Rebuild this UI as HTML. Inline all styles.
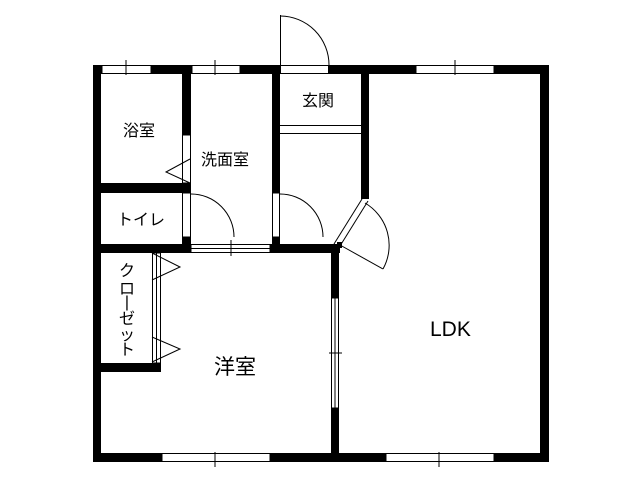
<!DOCTYPE html>
<html><head><meta charset="utf-8"><style>
html,body{margin:0;padding:0;background:#fff;}
svg{display:block;}
text{font-family:"Liberation Sans","Noto Sans CJK JP",sans-serif;fill:#000;}
</style></head><body>
<svg width="640" height="480" viewBox="0 0 640 480" xmlns="http://www.w3.org/2000/svg">
<g fill="#000">
<!-- outer walls -->
<rect x="93" y="65" width="456" height="9"/>
<rect x="93" y="453" width="456" height="9"/>
<rect x="93" y="65" width="8" height="397"/>
<rect x="540" y="65" width="9" height="397"/>
<!-- bath/washroom wall -->
<rect x="182" y="74" width="9" height="61"/>
<rect x="182" y="183" width="9" height="10"/>
<rect x="182" y="237" width="9" height="16"/>
<rect x="93" y="183" width="98" height="10"/>
<rect x="93" y="244" width="98" height="9"/>
<rect x="270" y="244" width="70" height="9"/>
<!-- wash/entrance wall -->
<rect x="272" y="74" width="8" height="119"/>
<rect x="272" y="237" width="8" height="16"/>
<!-- entrance/LDK wall -->
<rect x="361" y="74" width="8" height="125"/>
<!-- 洋室/LDK wall -->
<rect x="331" y="244" width="8" height="54"/>
<rect x="331" y="408" width="8" height="54"/>
<!-- closet bottom wall -->
<rect x="93" y="363" width="68" height="9"/>
</g>
<g fill="#fff" stroke="#000" stroke-width="1">
<!-- top windows -->
<rect x="102" y="65.5" width="49" height="8"/>
<rect x="192" y="65.5" width="48" height="8"/>
<rect x="280.5" y="65.5" width="48" height="8"/>
<rect x="416" y="65.5" width="78" height="8"/>
<!-- bottom windows -->
<rect x="162" y="453.5" width="108" height="8"/>
<rect x="386" y="453.5" width="108" height="8"/>
<!-- openings -->
<rect x="182.5" y="135" width="8" height="48"/>
<rect x="182.5" y="193" width="8" height="44"/>
<rect x="272.5" y="193" width="7" height="44"/>
<rect x="191" y="244.5" width="79" height="8"/>
<rect x="331.5" y="298" width="7" height="110"/>
<rect x="152.5" y="253" width="8" height="110"/>
</g>
<g stroke="#000" stroke-width="1" fill="none">
<line x1="126" y1="60" x2="126" y2="75"/>
<line x1="215" y1="60" x2="215" y2="75"/>
<line x1="455" y1="60" x2="455" y2="75"/>
<line x1="215" y1="452" x2="215" y2="467"/>
<line x1="439" y1="452" x2="439" y2="467"/>
<line x1="191" y1="248.5" x2="270" y2="248.5"/>
<line x1="231" y1="240" x2="231" y2="256"/>
<line x1="335" y1="298" x2="335" y2="408"/>
<line x1="329" y1="353" x2="342" y2="353"/>
<line x1="156.5" y1="253" x2="156.5" y2="363"/>
<!-- entrance door -->
<line x1="280.5" y1="15" x2="280.5" y2="65"/>
<path d="M280.5 16 A49 49 0 0 1 329 65"/>
<!-- bath folding door -->
<polyline points="190,159 166,172 190,183"/>
<!-- toilet door -->
<path d="M191 194 A43 43 0 0 1 234 237"/>
<!-- washroom door -->
<path d="M280 194 A43 43 0 0 1 323 237"/>
<!-- genkan step -->
<line x1="280" y1="125.5" x2="361" y2="125.5"/>
<line x1="280" y1="133.5" x2="361" y2="133.5"/>
<!-- LDK door -->
<line x1="362" y1="199" x2="334" y2="244"/>
<line x1="368" y1="201" x2="340" y2="246"/>
<line x1="340" y1="245" x2="383" y2="269"/>
<path d="M365 203 A49 49 0 0 1 383 269"/>
<!-- closet folding doors -->
<polyline points="152,253 180,267 152,280"/>
<polyline points="152,337 180,349 152,362"/>
</g>
<polygon points="337,242 342,242 342,248 337,248" fill="#000"/>
<g font-size="16">
<text x="123" y="136">浴室</text>
<text x="201" y="165">洗面室</text>
<text x="302" y="106">玄関</text>
<text x="117" y="225">トイレ</text>
</g>
<g font-size="16" text-anchor="middle">
<text x="127" y="276">ク</text>
<text x="127" y="294">ロ</text>
<text x="127" y="307">|</text>
<text x="127" y="324">ゼ</text>
<text x="127" y="340">ッ</text>
<text x="127" y="355">ト</text>
</g>
<text x="214" y="374" font-size="21">洋室</text>
<text x="430" y="336" font-size="21">LDK</text>
</svg>
</body></html>
